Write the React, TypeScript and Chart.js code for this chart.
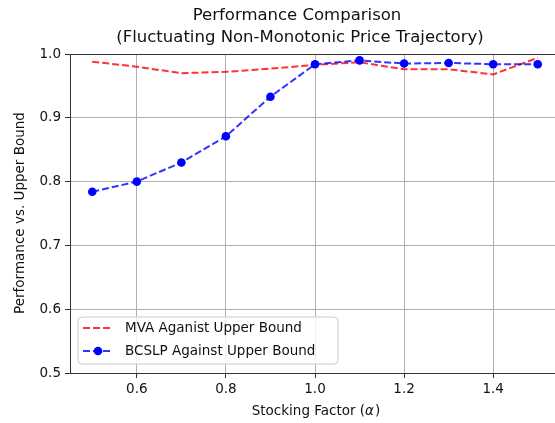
import React, { useEffect, useRef } from "react";
import { Chart, registerables } from "chart.js";

Chart.register(...registerables);

const stockingFactor = [0.5, 0.6, 0.7, 0.8, 0.9, 1.0, 1.1, 1.2, 1.3, 1.4, 1.5];
const mvaValues = [0.988, 0.980, 0.970, 0.972, 0.977, 0.983, 0.987, 0.976, 0.976, 0.968, 0.994];
const bcslpValues = [0.784, 0.800, 0.830, 0.871, 0.933, 0.984, 0.990, 0.985, 0.986, 0.984, 0.984];
const xTicks = [0.6, 0.8, 1.0, 1.2, 1.4];
const yTicks = [0.5, 0.6, 0.7, 0.8, 0.9, 1.0];
const titleLines = ["Performance Comparison", "(Fluctuating Non-Monotonic Price Trajectory)"];
const seriesNames = ["MVA Aganist Upper Bound", "BCSLP Against Upper Bound"];
const xTitleParts = ["Stocking Factor (", "\u03b1", ")"];
const yTitle = "Performance vs. Upper Bound";

const FONT = "'DejaVu Sans', sans-serif";
const RED = "rgba(255,0,0,0.8)";
const BLUE_LINE = "rgba(0,0,255,0.8)";
const BLUE = "#0000ff";
const DASH = [7, 3];

const overlay = {
  id: "overlay",
  afterDraw(chart: any) {
    const ctx = chart.ctx;
    const a = chart.chartArea;
    ctx.save();
    // top spine
    ctx.strokeStyle = "#333";
    ctx.lineWidth = 1;
    ctx.beginPath();
    ctx.moveTo(a.left, Math.round(a.top) + 0.5);
    ctx.lineTo(a.right, Math.round(a.top) + 0.5);
    ctx.stroke();

    // title
    ctx.fillStyle = "#111";
    ctx.textAlign = "center";
    ctx.textBaseline = "middle";
    ctx.font = `16.5px ${FONT}`;
    ctx.fillText(titleLines[0], 297, 16);
    ctx.fillText(titleLines[1], 300, 38);

    // x axis title with italic alpha
    const fontN = `13.5px ${FONT}`;
    const fontI = `italic 13.5px ${FONT}`;
    ctx.font = fontN;
    const w0 = ctx.measureText(xTitleParts[0]).width;
    const w2 = ctx.measureText(xTitleParts[2]).width;
    ctx.font = fontI;
    const w1 = ctx.measureText(xTitleParts[1]).width + 1;
    let x = 316 - (w0 + w1 + w2) / 2;
    ctx.textAlign = "left";
    ctx.font = fontN;
    ctx.fillText(xTitleParts[0], x, 411);
    x += w0;
    ctx.font = fontI;
    ctx.fillText(xTitleParts[1], x, 411);
    x += w1;
    ctx.font = fontN;
    ctx.fillText(xTitleParts[2], x, 411);

    ctx.textAlign = "center";
    ctx.save();
    ctx.translate(20, 213);
    ctx.rotate(-Math.PI / 2);
    ctx.fillText(yTitle, 0, 0);
    ctx.restore();

    // legend
    const bx = 78, by = 317, bw = 260, bh = 47, r = 4;
    ctx.beginPath();
    ctx.moveTo(bx + r, by);
    ctx.lineTo(bx + bw - r, by);
    ctx.quadraticCurveTo(bx + bw, by, bx + bw, by + r);
    ctx.lineTo(bx + bw, by + bh - r);
    ctx.quadraticCurveTo(bx + bw, by + bh, bx + bw - r, by + bh);
    ctx.lineTo(bx + r, by + bh);
    ctx.quadraticCurveTo(bx, by + bh, bx, by + bh - r);
    ctx.lineTo(bx, by + r);
    ctx.quadraticCurveTo(bx, by, bx + r, by);
    ctx.closePath();
    ctx.fillStyle = "rgba(255,255,255,0.8)";
    ctx.fill();
    ctx.strokeStyle = "#cccccc";
    ctx.lineWidth = 1;
    ctx.stroke();

    const rows = [328, 351];
    ctx.lineWidth = 2;
    ctx.setLineDash(DASH);
    ctx.strokeStyle = RED;
    ctx.beginPath();
    ctx.moveTo(83, rows[0]);
    ctx.lineTo(113, rows[0]);
    ctx.stroke();
    ctx.strokeStyle = BLUE_LINE;
    ctx.beginPath();
    ctx.moveTo(83, rows[1]);
    ctx.lineTo(113, rows[1]);
    ctx.stroke();
    ctx.setLineDash([]);
    ctx.fillStyle = BLUE;
    ctx.beginPath();
    ctx.arc(98, rows[1], 4.3, 0, Math.PI * 2);
    ctx.fill();

    ctx.fillStyle = "#111";
    ctx.textAlign = "left";
    ctx.font = `13.5px ${FONT}`;
    ctx.fillText(seriesNames[0], 125, rows[0]);
    ctx.fillText(seriesNames[1], 125, rows[1]);
    ctx.restore();
  },
};

export default function App() {
  const ref = useRef<HTMLCanvasElement>(null);
  useEffect(() => {
    if (!ref.current) return;
    const chart = new Chart(ref.current, {
      type: "line",
      data: {
        datasets: [
          {
            label: seriesNames[0],
            data: stockingFactor.map((x, i) => ({ x, y: mvaValues[i] })),
            borderColor: RED,
            borderWidth: 2,
            borderDash: DASH,
            pointRadius: 0,
            fill: false,
            tension: 0,
            order: 2,
          },
          {
            label: seriesNames[1],
            data: stockingFactor.map((x, i) => ({ x, y: bcslpValues[i] })),
            borderColor: BLUE_LINE,
            borderWidth: 2,
            borderDash: DASH,
            pointRadius: 4.3,
            pointBackgroundColor: BLUE,
            pointBorderColor: BLUE,
            pointBorderWidth: 0,
            fill: false,
            tension: 0,
            order: 1,
          },
        ],
      },
      options: {
        responsive: false,
        animation: false,
        layout: { padding: { left: 0, top: 54, right: 15, bottom: 0 } },
        plugins: {
          legend: { display: false },
          title: { display: false },
          tooltip: { enabled: false },
        },
        scales: {
          x: {
            type: "linear",
            min: 0.45,
            max: 1.55,
            afterFit: (s: any) => {
              s.height = 50;
            },
            afterBuildTicks: (s: any) => {
              s.ticks = xTicks.map((v) => ({ value: v }));
            },
            grid: { color: "#b0b0b0", lineWidth: 1, tickLength: 5, tickColor: "#333" },
            border: { color: "#333", width: 1 },
            ticks: {
              color: "#111",
              font: { family: FONT, size: 13.5 },
              padding: 3,
              maxRotation: 0,
              callback: (v: any) => Number(v).toFixed(1),
            },
          },
          y: {
            type: "linear",
            min: 0.5,
            max: 1.0,
            afterFit: (s: any) => {
              s.width = 70;
            },
            afterBuildTicks: (s: any) => {
              s.ticks = yTicks.map((v) => ({ value: v }));
            },
            grid: { color: "#b0b0b0", lineWidth: 1, tickLength: 5, tickColor: "#333" },
            border: { color: "#333", width: 1 },
            ticks: {
              color: "#111",
              font: { family: FONT, size: 13.5 },
              padding: 4,
              callback: (v: any) => Number(v).toFixed(1),
            },
          },
        },
      },
      plugins: [overlay],
    });
    return () => chart.destroy();
  }, []);
  return (
    <div
      style={{
        position: "absolute",
        left: 0,
        top: 0,
        width: 555,
        height: 423,
        overflow: "hidden",
        background: "#fff",
      }}
    >
      <canvas ref={ref} width={575} height={423} style={{ display: "block" }} />
    </div>
  );
}
